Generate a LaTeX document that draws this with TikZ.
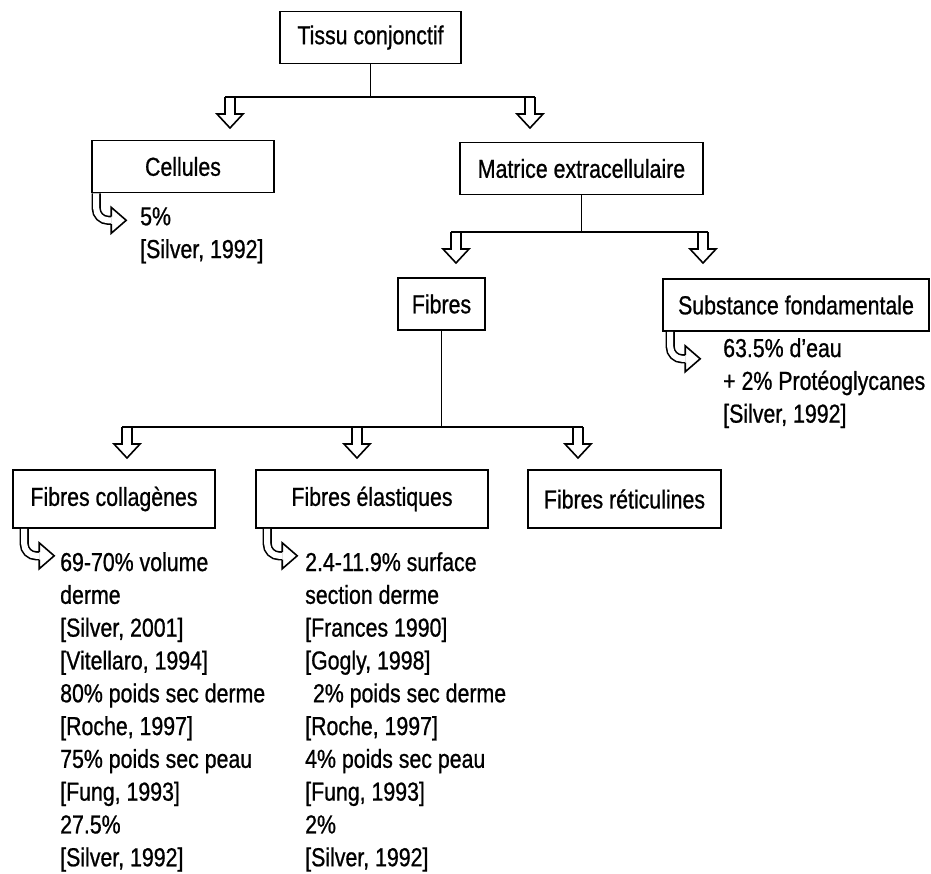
\documentclass[tikz,border=0pt]{standalone}
\usepackage{fontspec}
\setmainfont{Liberation Sans}[FakeStretch=0.82, FakeBold=0.8]

\begin{document}
\begin{tikzpicture}[x=1pt, y=-1pt,
    box/.style={draw, line width=1.6pt, minimum height=52pt, inner sep=0pt,
        font=\fontsize{26}{32.8}\selectfont},
    note/.style={anchor=north west, inner sep=0pt, align=left,
        font=\fontsize{26}{32.8}\selectfont},
    conn/.style={line width=1.6pt},
    downarrow/.pic={
        \draw [line width=1.6pt] (-5,0) -- (-5,17) -- (-13,17) -- (0,31)
            -- (13,17) -- (5,17) -- (5,0);
    },
    curlarrow/.pic={
        \draw [line width=1.6pt, double distance=6pt] (0,0) -- (0,15)
            arc (180:90:12) -- (15,27);
        \draw [line width=1.6pt] (15,23.2) -- (15,14) -- (30,27) -- (15,40)
            -- (15,30.8);
    }]

    % 1. Fix the page size
    \useasboundingbox (0,0) rectangle (931,873);

    % 2. The boxes
    \node [box, minimum width=181pt] (tissu) at (370.5,37.5) {Tissu conjonctif};
    \node [box, minimum width=182pt] (cel) at (183,166.5) {Cellules};
    \node [box, minimum width=243pt] (mat) at (581.5,168.5) {Matrice extracellulaire};
    \node [box, minimum width=87pt] (fib) at (441.5,304) {Fibres};
    \node [box, minimum width=266pt] (sub) at (796,305) {Substance fondamentale};
    \node [box, minimum width=202pt, minimum height=58pt] (col) at (114,499) {Fibres collagènes};
    \node [box, minimum width=232pt, minimum height=58pt] (ela) at (372,499) {Fibres élastiques};
    \node [box, minimum width=193pt, minimum height=58pt] (ret) at (624.5,499) {Fibres réticulines};

    % 3. Where the hollow arrows start
    \coordinate (a1) at (230,97);
    \coordinate (a2) at (530,97);
    \coordinate (a3) at (456,232);
    \coordinate (a4) at (703,232);
    \coordinate (a5) at (127,427);
    \coordinate (a6) at (357,427);
    \coordinate (a7) at (578,427);

    % 4. First branch: tissu -> cellules, matrice
    \draw [conn] (tissu.south) -- (tissu.south |- a1);
    \draw [conn] ([xshift=-5pt]a1) -- ([xshift=5pt]a2);
    \pic at (a1) {downarrow};
    \pic at (a2) {downarrow};

    % 5. Second branch: matrice -> fibres, substance
    \draw [conn] (mat.south) -- (mat.south |- a3);
    \draw [conn] ([xshift=-5pt]a3) -- ([xshift=5pt]a4);
    \pic at (a3) {downarrow};
    \pic at (a4) {downarrow};

    % 6. Third branch: fibres -> the three kinds
    \draw [conn] (fib.south) -- (fib.south |- a5);
    \draw [conn] ([xshift=-5pt]a5) -- ([xshift=5pt]a7);
    \pic at (a5) {downarrow};
    \pic at (a6) {downarrow};
    \pic at (a7) {downarrow};

    % 7. Curled arrows under the boxes
    \pic at ([xshift=5pt]cel.south west) {curlarrow};
    \pic at ([xshift=8pt]sub.south west) {curlarrow};
    \pic at ([xshift=12pt]col.south west) {curlarrow};
    \pic at ([xshift=12pt]ela.south west) {curlarrow};

    % 8. The figures and references
    \node [note] (celtxt) at (140,207) {5\%\\{}[Silver, 1992]};
    \node [note] (subtxt) at (723,338) {63.5\% d'eau\\+ 2\% Protéoglycanes\\{}[Silver, 1992]};
    \node [note] (coltxt) at (60,552) {69-70\% volume\\derme\\{}[Silver, 2001]\\{}[Vitellaro, 1994]\\80\% poids sec derme\\{}[Roche, 1997]\\75\% poids sec peau\\{}[Fung, 1993]\\27.5\%\\{}[Silver, 1992]};
    \node [note] (elatxt) at (305,552) {2.4-11.9\% surface\\section derme\\{}[Frances 1990]\\{}[Gogly, 1998]\\\hspace*{0.3em}2\% poids sec derme\\{}[Roche, 1997]\\4\% poids sec peau\\{}[Fung, 1993]\\2\%\\{}[Silver, 1992]};

\end{tikzpicture}
\end{document}
